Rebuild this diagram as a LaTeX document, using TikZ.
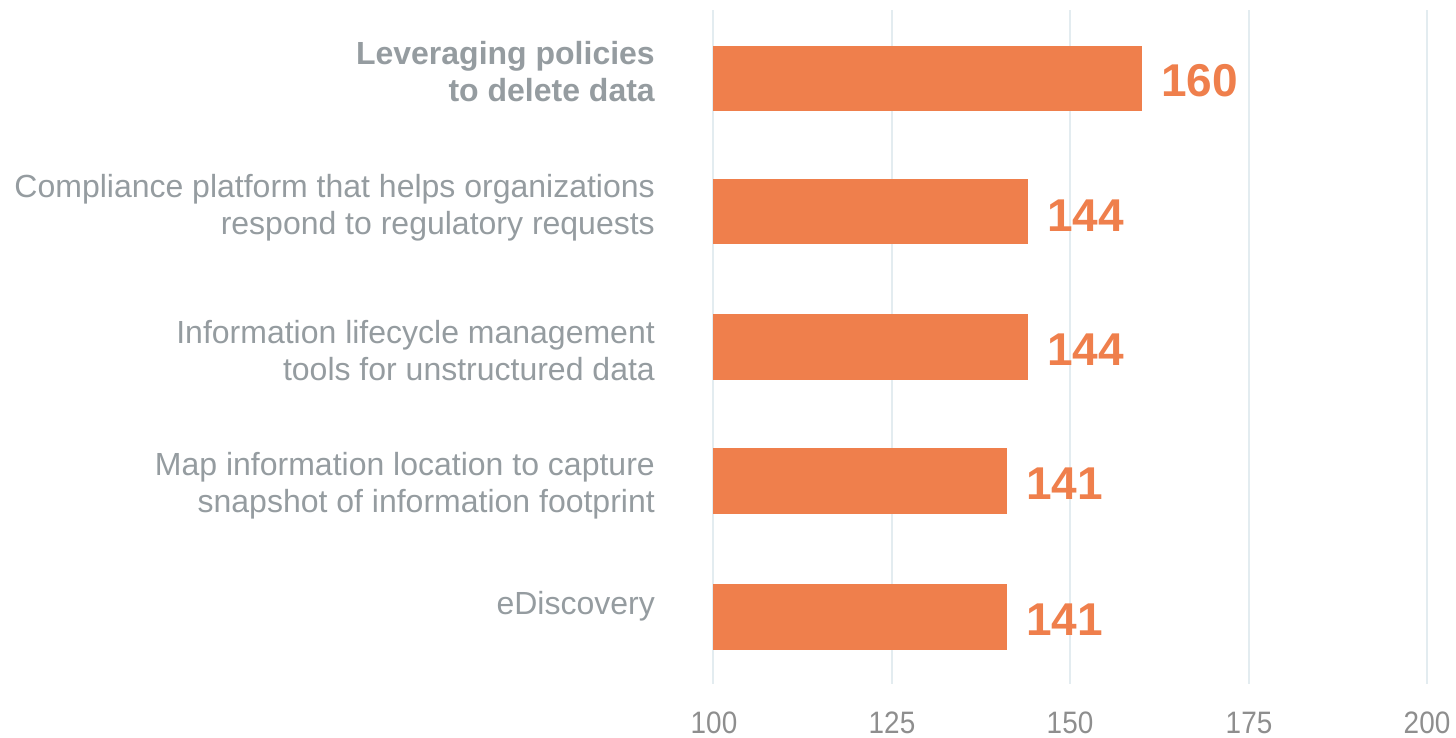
\documentclass[tikz,border=0pt]{standalone}
\usepackage{fontspec}
\setmainfont{Liberation Sans}
\definecolor{barorange}{HTML}{EF7F4C}
\definecolor{labgray}{HTML}{959CA0}
\definecolor{gridc}{HTML}{E3ECF0}
\definecolor{tickgray}{HTML}{8E8E8E}
\begin{document}
\begin{tikzpicture}[x=1pt,y=-1pt,
  gridline/.style={draw=gridc,line width=2.5pt},
  bar/.style={fill=barorange,draw=none},
  catlabel/.style={anchor=east,align=right,text=labgray,inner sep=0pt,font=\fontsize{32}{37}\selectfont},
  vallabel/.style={anchor=west,text=barorange,inner sep=0pt,font=\fontsize{46}{46}\selectfont\bfseries},
  ticklabel/.style={anchor=center,text=tickgray,inner sep=0pt,font=\fontsize{31}{31}\selectfont}]
\useasboundingbox (0,0) rectangle (1456,738);
% gridlines
\foreach \x/\n in {713/g100,892/g125,1070/g150,1249/g175,1427/g200}{
  \coordinate (\n top) at (\x,10);
  \coordinate (\n bot) at (\x,684);
  \draw[gridline] (\n top) -- (\n bot);
}
% tick labels
\node[ticklabel] (t100) at (714,723) {\scalebox{0.9}[1]{100}};
\node[ticklabel] (t125) at (892,723) {\scalebox{0.9}[1]{125}};
\node[ticklabel] (t150) at (1070,723) {\scalebox{0.9}[1]{150}};
\node[ticklabel] (t175) at (1249,723) {\scalebox{0.9}[1]{175}};
\node[ticklabel] (t200) at (1427,723) {\scalebox{0.9}[1]{200}};
% bars
\fill[bar] (713,46) rectangle (1142,111);
\fill[bar] (713,179) rectangle (1028,244);
\fill[bar] (713,314) rectangle (1028,380);
\fill[bar] (713,448) rectangle (1007,514);
\fill[bar] (713,584) rectangle (1007,650);
% values
\node[vallabel] (v1) at (1161,81) {160};
\node[vallabel] (v2) at (1047,216) {144};
\node[vallabel] (v3) at (1047,350) {144};
\node[vallabel] (v4) at (1026,484) {141};
\node[vallabel] (v5) at (1026,620) {141};
% category labels
\node[catlabel,font=\fontsize{32}{37}\selectfont\bfseries] (c1) at (655,72) {Leveraging policies\\to delete data};
\node[catlabel] (c2) at (655,208) {Compliance platform that helps organizations\\respond to regulatory requests};
\node[catlabel] (c3) at (655,351) {Information lifecycle management\\tools for unstructured data};
\node[catlabel] (c4) at (655,486) {Map information location to capture\\snapshot of information footprint};
\node[catlabel] (c5) at (655,606) {eDiscovery};
\end{tikzpicture}
\end{document}
